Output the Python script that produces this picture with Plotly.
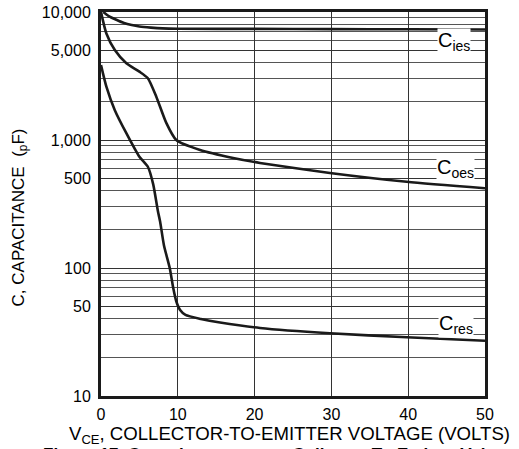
import math
import plotly.graph_objects as go

# Data
vce_ies = [0.3, 1, 2, 3, 4, 5, 6.5, 8, 10, 20, 30, 40, 50]
c_ies = [10000, 9300, 8700, 8200, 7900, 7700, 7550, 7450, 7400, 7380, 7350, 7330, 7300]

vce_oes = [0, 0.7, 1.8, 3.3, 5.0, 6.1, 7.2, 8.5, 9.8, 12.9, 17.2, 20.7, 29.8, 39.8, 50]
c_oes = [10000, 6800, 5050, 3980, 3420, 3040, 2180, 1360, 1000, 836, 724, 662, 553, 472, 420]

vce_res = [0, 0.7, 1.8, 3.3, 5.0, 6.1, 6.8, 7.4, 7.7, 8.2, 8.95, 9.4, 9.8, 10.3, 11, 13, 15.5, 20.7, 29.8, 39.8, 50]
c_res = [3850, 2610, 1710, 1130, 740, 618, 450, 280, 230, 150, 100, 70, 55, 47, 43, 40, 37.5, 34, 30.9, 28.8, 27.0]

y_tickvals = [10, 50, 100, 500, 1000, 5000, 10000]
y_ticktext = ["10", "50", "100", "500", "1,000", "5,000", "10,000"]
y_gridvals = [m * d for d in (10, 100, 1000) for m in range(2, 10)] + [100, 1000]
x_tickvals = [0, 10, 20, 30, 40, 50]

labels = ["C<sub>ies</sub>", "C<sub>oes</sub>", "C<sub>res</sub>"]
label_x = [45.9, 46.1, 46.2]
label_y = [5830, 600, 36]

x_title = "V<sub>CE</sub>, COLLECTOR-TO-EMITTER VOLTAGE (VOLTS)"
y_title = "C, CAPACITANCE  (<sub>p</sub>F)"
fig_title = "<b>Figure 17. Capacitance versus Collector-To-Emitter Voltage</b>"

FONT = "Liberation Sans, Arial, sans-serif"

fig = go.Figure()
for xs, ys in [(vce_ies, c_ies), (vce_oes, c_oes), (vce_res, c_res)]:
    fig.add_trace(go.Scatter(x=xs, y=ys, mode="lines",
                             line=dict(color="#1a1a1a", width=2.6, shape="spline", smoothing=0.6),
                             showlegend=False, hoverinfo="skip"))

for t, lx, ly in zip(labels, label_x, label_y):
    fig.add_annotation(x=lx, y=math.log10(ly), text=t, showarrow=False,
                       font=dict(family=FONT, size=20, color="black"),
                       bgcolor="white", borderpad=0)

fig.add_annotation(xref="paper", yref="paper", x=0.49, y=-0.102, xanchor="center", yanchor="middle",
                   text=x_title, showarrow=False, font=dict(family=FONT, size=18.6, color="black"))
fig.add_annotation(xref="paper", yref="paper", x=-0.211, y=0.465, xanchor="center", yanchor="middle",
                   textangle=-90, text=y_title, showarrow=False,
                   font=dict(family=FONT, size=17, color="black"))
fig.add_annotation(xref="paper", yref="paper", x=-0.155, y=-0.122, xanchor="left", yanchor="top",
                   text=fig_title, showarrow=False, font=dict(family=FONT, size=17, color="black"))

fig.update_layout(
    width=519, height=449,
    margin=dict(l=101, r=34, t=12, b=53),
    paper_bgcolor="white", plot_bgcolor="white",
    font=dict(family=FONT, size=16, color="black"),
    xaxis=dict(range=[0, 50], tickvals=x_tickvals, showgrid=True, gridcolor="#333333", gridwidth=1,
               showline=True, linecolor="#1a1a1a", linewidth=3, mirror=True, ticks="",
               zeroline=False, tickfont=dict(size=16), automargin=False, ticklabelstandoff=2,
               ticklabeloverflow="allow"),
    yaxis=dict(type="log", range=[1, 4], tickvals=y_tickvals, ticktext=y_ticktext,
               showgrid=True, gridcolor="#333333", gridwidth=1,
               minor=dict(tickvals=y_gridvals, showgrid=True, gridcolor="#555555", gridwidth=1, ticks=""),
               showline=True, linecolor="#1a1a1a", linewidth=3, mirror=True, ticks="",
               zeroline=False, tickfont=dict(size=16), automargin=False, ticklabelstandoff=4,
               ticklabeloverflow="allow"),
)

fig.write_html("out.html", config={"displayModeBar": False},
               post_script="document.body.style.margin='0';")
